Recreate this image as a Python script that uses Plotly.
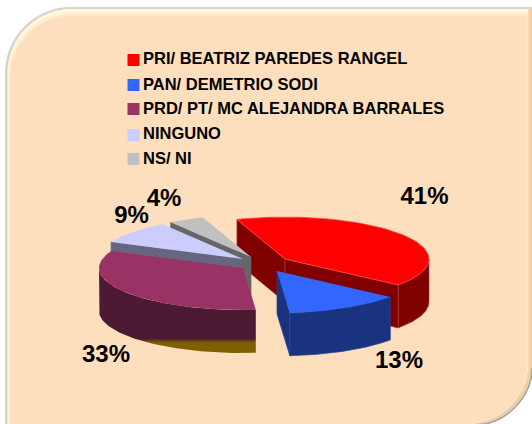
import math
import plotly.graph_objects as go

# ---- data ----
categories = ["PRI/ BEATRIZ PAREDES RANGEL", "PAN/ DEMETRIO SODI",
              "PRD/ PT/ MC ALEJANDRA BARRALES", "NINGUNO", "NS/ NI"]
values = [41, 13, 33, 9, 4]

# ---- style / layout ----
top_colors = ["#FF0000", "#3366FF", "#993366", "#CCCCFF", "#C0C0C0"]
side_colors = ["#800000", "#1A3380", "#4D1A33", "#666680", "#666666"]
edge_colors = ["#A83C3C", "#2A4490", "#5D2A43", "#666680", "#666666"]
apex_x = [285, 277, 243, 243, 251]
apex_y = [259, 271, 268, 259, 257]
paint_order = [0, 4, 3, 2, 1]
RX, RY, DEPTH = 144, 42, 43
START_ANGLE = -109.5
label_x = [424.5, 399, 106, 131.5, 164]
label_y = [197.5, 361.5, 355.5, 217, 199.5]
legend_y = [60, 85, 109, 135, 159]
legend_text_y = [60, 85.5, 109.5, 135, 160]
LEGEND_MARK_X, LEGEND_TEXT_X = 133.5, 143
FONT = "Liberation Sans"


def card_path(x0, y0, x1, y1, rtl, rbr):
    return (f"M{x0},{y0 + rtl} C{x0},{y0 + rtl * .45} {x0 + rtl * .45},{y0} {x0 + rtl},{y0} "
            f"L{x1},{y0} L{x1},{y1 - rbr} "
            f"C{x1},{y1 - rbr * .45} {x1 - rbr * .45},{y1} {x1 - rbr},{y1} "
            f"L{x0},{y1} Z")


card_layers = [
    (5, 7, 532, 425, 66, 60, "#D6D3C8"),
    (7.5, 9, 533, 425, 64, 64, "#F0CCA8"),
    (7.5, 9, 530, 424, 64, 62, "#F8D8B4"),
    (7.5, 9, 528, 424, 64, 62, "#FFF8E4"),
    (8.5, 12, 528, 424, 62, 62, "#FFF1D6"),
    (9.5, 14, 528, 424, 62, 62, "#FFE8CB"),
    (10, 16, 527, 424, 62, 62, "#FEDFBD"),
]
shapes = [dict(type="path", path=card_path(*l[:6]), fillcolor=l[6],
               line=dict(width=0), layer="below") for l in card_layers]
# grey rim on the lower right corner
shapes.append(dict(type="path", layer="below", line=dict(width=1.6, color="#A8A297"),
                   path="M532,368 C532,398 505,425 474,425"))

fig = go.Figure()


def ell(cx, cy, deg, dz=0):
    t = math.radians(deg)
    return cx + RX * math.cos(t), cy + RY * math.sin(t) + dz


def poly(pts, color, name, edge=None, gradient=None):
    xs = [p[0] for p in pts] + [pts[0][0]]
    ys = [p[1] for p in pts] + [pts[0][1]]
    kw = dict(fillcolor=color) if gradient is None else dict(fillgradient=gradient)
    fig.add_trace(go.Scatter(x=xs, y=ys, mode="lines", fill="toself",
                             line=dict(width=0.7 if edge else 0, color=edge or color),
                             name=name, showlegend=False, hoverinfo="name", **kw))


def arc(cx, cy, a, b, dz=0, n=60):
    return [ell(cx, cy, a + (b - a) * i / n, dz) for i in range(n + 1)]


# cumulative slice angles derived from the values
total = sum(values)
angles = [START_ANGLE]
for v in values:
    angles.append(angles[-1] + 360 * v / total)

for idx in paint_order:
    a, b = angles[idx], angles[idx + 1]
    cx, cy = apex_x[idx], apex_y[idx]
    name, side, edge = categories[idx], side_colors[idx], edge_colors[idx]
    # radial cut faces
    for ang, normal in ((a, a - 90), (b, b + 90)):
        if math.sin(math.radians(normal)) > 0:
            px, py = ell(cx, cy, ang)
            poly([(cx, cy), (px, py), (px, py + DEPTH), (cx, cy + DEPTH)], side, name, edge)
    # outer wall (front half of the ellipse only)
    lo, hi = max(a, 0), min(b, 180)
    if hi > lo:
        grad = None
        if idx == 2:
            grad = dict(type="vertical", start=268, stop=354,
                        colorscale=[[0, side], [0.82, side], [0.87, "#7F6000"], [1, "#7F6000"]])
        poly(arc(cx, cy, lo, hi) + arc(cx, cy, hi, lo, DEPTH), side, name,
             None if grad else edge if idx != 2 else None, grad)
    # top face
    poly([(cx, cy)] + arc(cx, cy, a, b), top_colors[idx], name,
         "#FF5050" if idx == 0 else None)

# percentage labels
fig.add_trace(go.Scatter(x=label_x, y=label_y, mode="text",
                         text=[f"{v}%" for v in values], textposition="middle center",
                         textfont=dict(family=FONT, size=24, color="#000000", weight=700),
                         showlegend=False, hoverinfo="skip"))

# legend
fig.add_trace(go.Scatter(x=[LEGEND_MARK_X] * len(categories), y=legend_y, mode="markers",
                         marker=dict(symbol="square", size=12, color=top_colors, line=dict(width=0)),
                         showlegend=False, hoverinfo="skip"))
fig.add_trace(go.Scatter(x=[LEGEND_TEXT_X] * len(categories), y=legend_text_y, mode="text",
                         text=categories, textposition="middle right",
                         textfont=dict(family=FONT, size=16.5, color="#000000", weight=700),
                         showlegend=False, hoverinfo="skip"))

fig.update_layout(
    width=532, height=424, autosize=False,
    margin=dict(l=0, r=0, t=0, b=0),
    paper_bgcolor="#FFFFFF", plot_bgcolor="rgba(0,0,0,0)",
    xaxis=dict(range=[0, 532], visible=False, fixedrange=True),
    yaxis=dict(range=[424, 0], visible=False, fixedrange=True),
    shapes=shapes, showlegend=False,
)
fig.write_html("out.html", config=dict(displayModeBar=False),
               post_script="document.body.style.margin='0';document.body.style.overflow='hidden';")
